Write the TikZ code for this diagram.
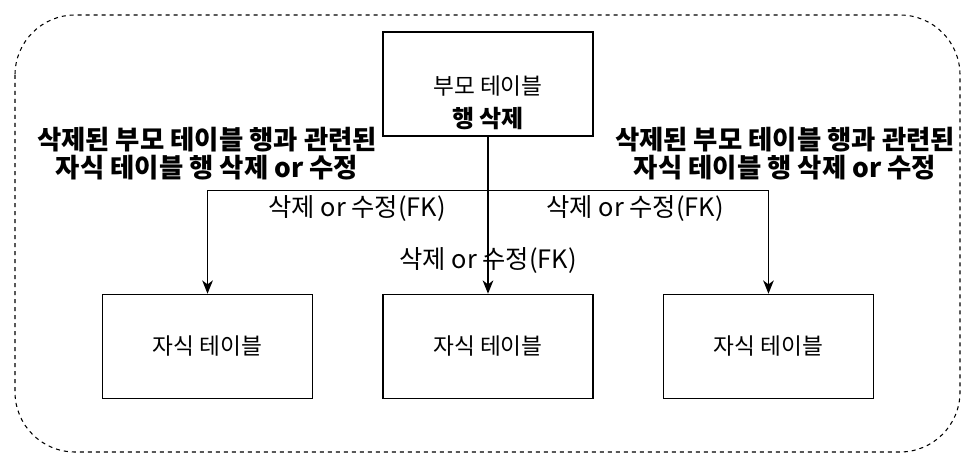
\documentclass[tikz,border=0pt]{standalone}
\usepackage{fontspec}
\setmainfont{Noto Sans CJK KR}
\usetikzlibrary{positioning}
\usetikzlibrary{arrows.meta}

\tikzset{
	tbl/.style={draw, rectangle, line width=1.1pt, minimum width=157.5pt, minimum height=78pt, align=center, font=\fontsize{17}{20}\selectfont},
	lbl/.style={font=\fontsize{19}{22}\selectfont, inner sep=1pt},
	note/.style={font=\fontsize{19.8}{21}\selectfont\bfseries, align=center, inner sep=0pt},
	arr/.style={line width=1.1pt, -{Stealth[length=10pt, width=8pt, inset=3pt]}}
}

\begin{document}
\begin{tikzpicture}[x=0.75pt, y=-0.75pt, node distance=117.75pt and 51.75pt]
			\useasboundingbox (0,0) rectangle (975,467);
			% cadre pointill\'e
			\draw[dashed, line width=0.8pt, rounded corners=45pt] (15,15) rectangle (960,452);
			%
			% Table parent
			\node[tbl, inner ysep=0pt] (parent) at (488,84) {\mbox{}\\[22pt]부모 테이블\\[5pt]{\fontsize{18}{21}\selectfont\bfseries 행 삭제}};
			%
			% Tables enfants
			\node[tbl, below=of parent] (childm) {자식 테이블};
			\node[tbl, left=of childm] (childl) {자식 테이블};
			\node[tbl, right=of childm] (childr) {자식 테이블};
			%
			% Fl\`eches
			\draw[arr] (parent.south) |- +(0,-40.5pt) -| (childl.north);
			\draw[arr] (parent.south) |- +(0,-40.5pt) -| (childr.north);
			\draw[arr] (parent.south) -- (childm.north);
			%
			% Etiquettes
			\node[lbl] (fkl) at (357,209) {삭제 or 수정(FK)};
			\node[lbl] (fkr) at (635,209) {삭제 or 수정(FK)};
			\node[lbl] (fkm) at (488,261) {삭제 or 수정(FK)};
			%
			% Remarques
			\node[note] (notel) at (207,154) {삭제된 부모 테이블 행과 관련된\\자식 테이블 행 삭제 or 수정};
			\node[note] (noter) at (785,154) {삭제된 부모 테이블 행과 관련된\\자식 테이블 행 삭제 or 수정};
		\end{tikzpicture}
\end{document}
